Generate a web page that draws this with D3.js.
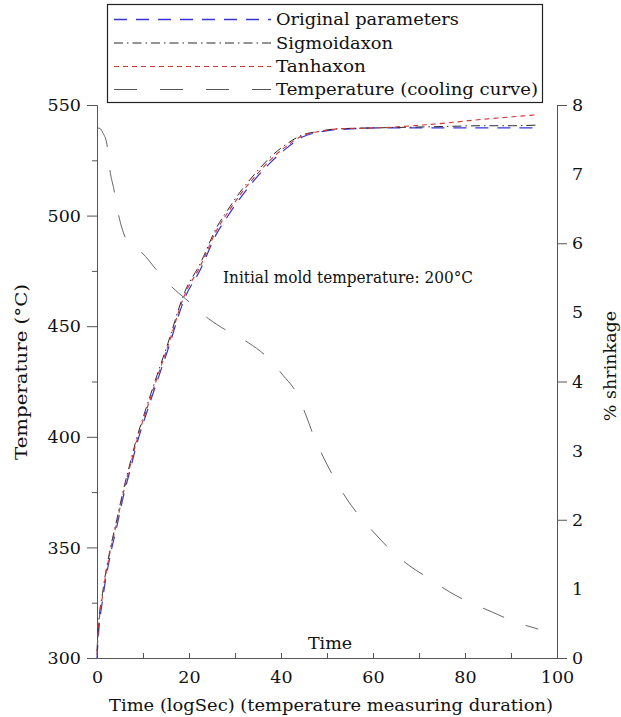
<!DOCTYPE html>
<html><head><meta charset="utf-8">
<script src="https://cdn.jsdelivr.net/npm/d3@7"></script>
<style>
body{margin:0;background:#fff}
svg{display:block}
text{font-family:"DejaVu Serif",serif;fill:#111}
</style>
</head><body>
<svg id="c" width="621" height="717"></svg>
<script>
// ---------- data ----------
const shrinkTime     = [0, 0.2, 1.3, 2.8, 4.3, 5.7, 7.2, 8.3, 11.7, 15.4, 19.1, 22.4, 26.1, 28.3, 31.1, 34.8, 37.6, 41.3, 44.8, 48.5, 51.3, 54.3, 61.5, 68.7, 76, 83.3, 90.4, 95.9];
const originalParams = [0, 0.23, 0.88, 1.46, 1.90, 2.33, 2.72, 3.01, 3.73, 4.46, 5.21, 5.61, 6.15, 6.38, 6.65, 6.96, 7.16, 7.38, 7.54, 7.61, 7.64, 7.65, 7.67, 7.67, 7.67, 7.67, 7.67, 7.67];
const sigmoidAxon    = [0.1, 0.35, 0.98, 1.55, 2.00, 2.42, 2.82, 3.10, 3.82, 4.55, 5.30, 5.70, 6.24, 6.47, 6.74, 7.04, 7.24, 7.44, 7.57, 7.62, 7.65, 7.66, 7.67, 7.68, 7.69, 7.70, 7.70, 7.71];
const tanhAxon       = [0.05, 0.30, 0.94, 1.52, 1.96, 2.38, 2.78, 3.06, 3.78, 4.51, 5.26, 5.66, 6.20, 6.43, 6.70, 7.00, 7.20, 7.41, 7.56, 7.62, 7.65, 7.66, 7.67, 7.70, 7.74, 7.79, 7.83, 7.86];
const coolTime = [0.1, 0.65, 1.3, 2.1, 2.8, 3.7, 4.6, 6.1, 7.0, 9.8, 13.3, 16.3, 19.3, 24.3, 28.7, 33.0, 37.2, 40.4, 43.5, 45.4, 47.2, 49.3, 51.7, 54.3, 57.4, 60.7, 64.3, 68.0, 72.4, 76.7, 81.3, 85.9, 90.4, 95.9];
const coolTemp = [539.6, 539.4, 537.3, 532.8, 520.6, 511.6, 501.2, 490.3, 486.8, 483.1, 474.5, 467.7, 462.3, 453.3, 447.4, 442.4, 435.6, 427.9, 419.3, 409.9, 399.9, 390.4, 380.9, 371.9, 363.3, 355.6, 347.9, 341.6, 335.7, 329.8, 324.9, 320.8, 316.7, 313.1];

const xTickLabels   = [0, 20, 40, 60, 80, 100];
const xTickMarks    = [0, 10, 20, 30, 40, 50, 60, 70, 80, 90, 100];
const leftTickMajor = [300, 350, 400, 450, 500, 550];
const leftTickMinor = [325, 375, 425, 475, 525];
const rightTickLabels = [0, 1, 2, 3, 4, 5, 6, 7, 8];
const rightTickMarks  = [0, 2, 4, 6, 8];
const legendLabels = ["Original parameters", "Sigmoidaxon", "Tanhaxon", "Temperature (cooling curve)"];

// ---------- layout ----------
const L = 97, R = 557, T = 105, B = 658;
const svg = d3.select("#c");
const x  = d3.scaleLinear([0, 100], [L, R]);
const yL = d3.scaleLinear([300, 550], [B, T]);
const yR = d3.scaleLinear([0, 8], [B, T]);
const axisColor = "#555";
const fs = 17.5;

const styles = [
  {color: "#3434d8", dash: "13,9",  w: 1.2},
  {color: "#2a2a2a", dash: "9,4,1.5,4", w: 1.0},
  {color: "#d03535", dash: "5,4",   w: 1.1},
  {color: "#555555", dash: "23,23", w: 0.9}
];

function styleAxis(g){
  g.selectAll("path,line").attr("stroke", axisColor).attr("stroke-width", 1);
  g.selectAll("text").attr("font-family", '"DejaVu Serif",serif').attr("font-size", fs).attr("fill", "#111");
}

// left axis
svg.append("g").attr("transform", `translate(${L},0)`)
  .call(d3.axisLeft(yL).tickValues(leftTickMinor).tickSize(5).tickSizeOuter(0).tickFormat(""))
  .call(styleAxis);
svg.append("g").attr("transform", `translate(${L},0)`)
  .call(d3.axisLeft(yL).tickValues(leftTickMajor).tickSize(10).tickPadding(6).tickSizeOuter(0))
  .call(styleAxis);

// right axis
svg.append("g").attr("transform", `translate(${R},0)`)
  .call(d3.axisRight(yR).tickValues(rightTickMarks).tickSize(10).tickSizeOuter(0).tickFormat(""))
  .call(styleAxis);
svg.append("g").attr("transform", `translate(${R},0)`)
  .call(d3.axisRight(yR).tickValues(rightTickLabels).tickSize(0).tickPadding(15).tickSizeOuter(0))
  .call(g => g.select(".domain").remove())
  .call(styleAxis);

// bottom axis
svg.append("g").attr("transform", `translate(0,${B})`)
  .call(d3.axisBottom(x).tickValues(xTickMarks).tickSize(-5).tickSizeOuter(0).tickFormat(""))
  .call(styleAxis);
svg.append("g").attr("transform", `translate(0,${B})`)
  .call(d3.axisBottom(x).tickValues(xTickLabels).tickSize(0).tickPadding(13))
  .call(g => g.select(".domain").remove())
  .call(styleAxis);

// curves
const shrinkSeries = [originalParams, sigmoidAxon, tanhAxon];
const lineS = d3.line().x(d => x(d[0])).y(d => yR(d[1])).curve(d3.curveMonotoneX);
shrinkSeries.forEach((vals, i) => {
  svg.append("path")
    .datum(shrinkTime.map((t, j) => [t, vals[j]]))
    .attr("d", lineS).attr("fill", "none")
    .attr("stroke", styles[i].color).attr("stroke-width", styles[i].w)
    .attr("stroke-dasharray", styles[i].dash);
});
const lineT = d3.line().x(d => x(d[0])).y(d => yL(d[1])).curve(d3.curveMonotoneX);
svg.append("path")
  .datum(coolTime.map((t, j) => [t, coolTemp[j]]))
  .attr("d", lineT).attr("fill", "none")
  .attr("stroke", styles[3].color).attr("stroke-width", styles[3].w)
  .attr("stroke-dasharray", styles[3].dash);

// text helper
function txt(str, xx, yy, opts = {}){
  const t = svg.append("text").text(str).attr("x", xx).attr("y", yy)
    .attr("font-size", opts.size || fs)
    .attr("text-anchor", opts.anchor || "start");
  if (opts.rotate) t.attr("transform", `rotate(-90,${xx},${yy})`);
  if (opts.len) t.attr("textLength", opts.len).attr("lengthAdjust", "spacingAndGlyphs");
  return t;
}

// axis titles
txt("Time (logSec) (temperature measuring duration)", 331, 711, {anchor: "middle", len: 444});
txt("Temperature (°C)", 27, 372, {anchor: "middle", rotate: true, len: 176});
txt("% shrinkage", 616, 366, {anchor: "middle", rotate: true});
// annotations
txt("Initial mold temperature: 200°C", 223, 283, {len: 250});
txt("Time", 330, 649, {anchor: "middle"});

// legend
svg.append("rect").attr("x", 107.5).attr("y", 4.5).attr("width", 435).attr("height", 98)
  .attr("fill", "#fff").attr("stroke", "#222").attr("stroke-width", 1.2);
const legendBase = [25, 48.5, 72, 95];
const legendLen = [183, 117, 90, 262];
legendLabels.forEach((lab, i) => {
  const ly = legendBase[i] - 5.5;
  svg.append("line").attr("x1", 114).attr("x2", 271).attr("y1", ly).attr("y2", ly)
    .attr("stroke", styles[i].color).attr("stroke-width", styles[i].w + 0.1)
    .attr("stroke-dasharray", styles[i].dash);
  txt(lab, 276, legendBase[i], {len: legendLen[i]});
});
</script>
</body></html>
